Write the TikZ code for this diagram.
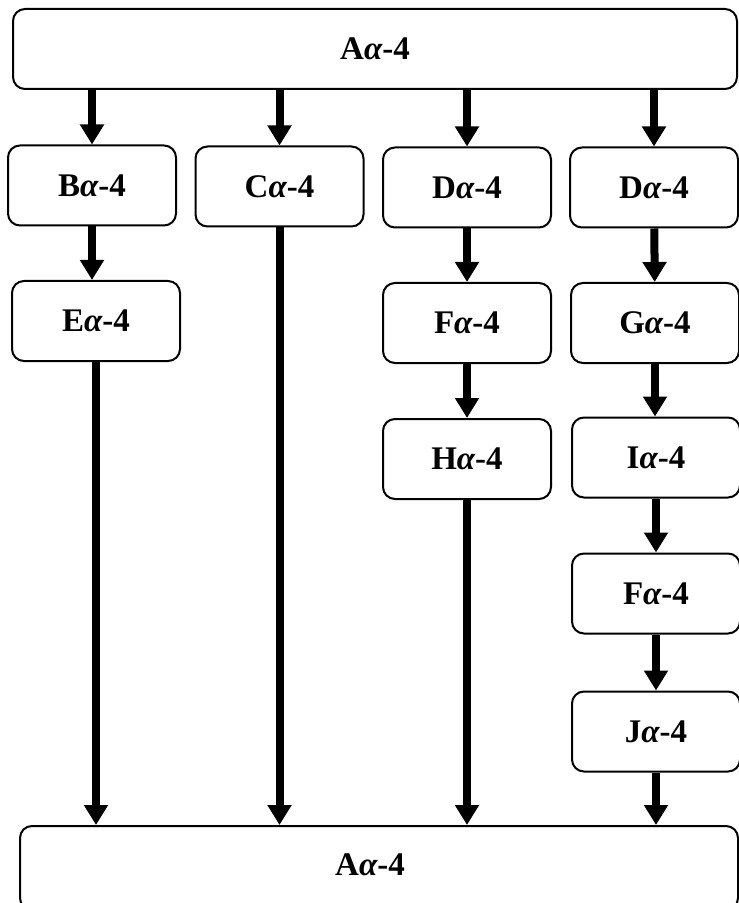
\documentclass[tikz,border=0pt]{standalone}
\usepackage{fontspec}
\setmainfont{Liberation Serif}
\usetikzlibrary{arrows.meta}
\tikzset{
  box/.style={draw, line width=1pt, rounded corners=6pt, minimum width=84pt,
    minimum height=40pt, inner sep=0pt, font=\fontsize{16.5}{20}\selectfont\bfseries},
  arr/.style={line width=4pt, -{Triangle[width=11.5pt,length=10pt]}}
}
\newcommand{\alf}{{\itshape α}}
\begin{document}
\begin{tikzpicture}[x=0.5pt,y=-0.5pt]
\useasboundingbox (0,0) rectangle (738,903);

\node[box,minimum width=362pt] (top) at (375,49) {A\alf-4};

\node[box] (b) at (92,185.5) {B\alf-4};
\node[box] (c) at (279.5,186.5) {C\alf-4};
\node[box] (d1) at (467,187.5) {D\alf-4};
\node[box] (d2) at (654,187.5) {D\alf-4};

\node[box] (e) at (96,321) {E\alf-4};
\node[box] (f1) at (467,323) {F\alf-4};
\node[box] (g) at (655,323) {G\alf-4};

\node[box] (h) at (467,459) {H\alf-4};
\node[box] (i) at (656,457.5) {I\alf-4};
\node[box] (f2) at (656,593.5) {F\alf-4};
\node[box] (j) at (656,731.5) {J\alf-4};

\node[box,minimum width=359pt,minimum height=42pt] (bot) at (379,868) {};
\node[font=\fontsize{16.5}{20}\selectfont\bfseries] (botlabel) at (370,865) {A\alf-4};

\draw[arr] (top.south -| b.north) -- (b.north);
\draw[arr] (top.south -| c.north) -- (c.north);
\draw[arr] (top.south -| d1.north) -- (d1.north);
\draw[arr] (top.south -| d2.north) -- (d2.north);

\draw[arr] (b.south) -- (b.south |- e.north);
\draw[arr] (d1) -- (f1);
\draw[arr] (d2) -- (g);
\draw[arr] (f1) -- (h);
\draw[arr] (g.south) -- (g.south |- i.north);
\draw[arr] (i) -- (f2);
\draw[arr] (f2) -- (j);

\draw[arr] (e.south) -- (e.south |- bot.north);
\draw[arr] (c.south) -- (c.south |- bot.north);
\draw[arr] (h.south) -- (h.south |- bot.north);
\draw[arr] (j.south) -- (j.south |- bot.north);

\end{tikzpicture}
\end{document}
